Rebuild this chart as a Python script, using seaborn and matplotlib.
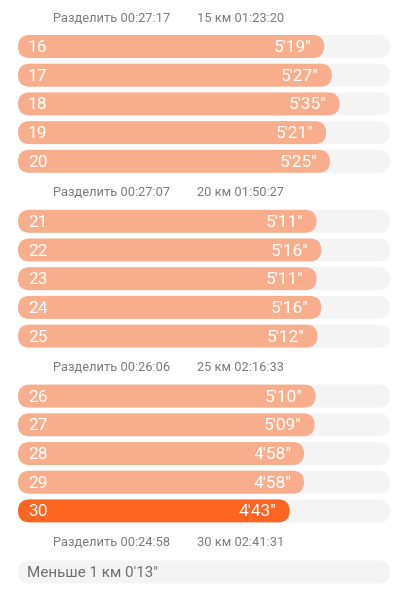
import matplotlib
matplotlib.use("Agg")
import matplotlib.pyplot as plt
import seaborn as sns
import pandas as pd
from matplotlib.patches import FancyBboxPatch

# km splits 16..30, pace in seconds per km
km = list(range(16, 31))
pace_sec = [319, 327, 335, 321, 325,
            311, 316, 311, 316, 312,
            310, 309, 298, 298, 283]

# section headers (every 5 km)
split_times = ["00:27:17", "00:27:07", "00:26:06", "00:24:58"]
total_km = [15, 20, 25, 30]
total_times = ["01:23:20", "01:50:27", "02:16:33", "02:41:31"]

rest_label = "Меньше 1 км 0'13\""
track_max = 387.5

light = "#F8AE8C"
dark = "#FC6522"
track = "#F4F4F4"

sns.set_theme(style="white")
plt.rcParams['font.family'] = ['Roboto', 'DejaVu Sans']

# row layout in pixels (y grows downward)
header_y = []
bar_y = []
y = 17.0
for sec in range(4):
    header_y.append(y)
    if sec < 3:
        y += 29.5
        for j in range(5):
            bar_y.append(y)
            y += 28.7
        y += 1.8
    else:
        y += 30.5
rest_y = y

fig = plt.figure(figsize=(4, 5.96), dpi=100)
ax = fig.add_axes([18 / 400, 0, 372 / 400, 1])

df = pd.DataFrame({"km": km, "pace": pace_sec, "y": bar_y})
df["best"] = df["pace"] == df["pace"].min()

tracks = pd.DataFrame({"pace": [track_max] * (len(bar_y) + 1),
                       "y": bar_y + [rest_y]})

sns.barplot(data=tracks, x="pace", y="y", orient="h", native_scale=True,
            color=track, width=0.8, ax=ax, saturation=1)
sns.barplot(data=df, x="pace", y="y", hue="best", orient="h",
            native_scale=True, palette={False: light, True: dark},
            width=0.8, dodge=False, legend=False, ax=ax, saturation=1)

ax.set_xlim(0, track_max)
ax.set_ylim(596, 0)
ax.set_axis_off()

# x units per pixel
kx = track_max / 372

# replace rectangles with rounded ones
rects = list(ax.patches)
for r in rects:
    x0, y0 = r.get_x(), r.get_y()
    w, h = r.get_width(), r.get_height()
    rad = abs(h) / 2
    fb = FancyBboxPatch((x0, min(y0, y0 + h)), w, abs(h),
                        boxstyle=f"round,pad=0,rounding_size={rad * kx}",
                        mutation_aspect=1 / kx,
                        facecolor=r.get_facecolor(), edgecolor="none",
                        linewidth=0)
    r.remove()
    ax.add_patch(fb)

dy = 1.0
for i, row in df.iterrows():
    ax.text(10 * kx, row["y"] + dy, str(row["km"]), color="white", fontsize=12.5,
            va="center", ha="left")
    m, s = divmod(int(row["pace"]), 60)
    ax.text(row["pace"] - 13 * kx, row["y"] + dy, f"{m}'{s:02d}\"", color="white",
            fontsize=12.5, va="center", ha="right")

for i in range(4):
    ax.text(35 * kx, header_y[i] + dy, f"Разделить {split_times[i]}",
            color="#7a7a7a", fontsize=9.3, va="center", ha="left")
    ax.text(179 * kx, header_y[i] + dy, f"{total_km[i]} км {total_times[i]}",
            color="#7a7a7a", fontsize=9.3, va="center", ha="left")

ax.text(9 * kx, rest_y + dy, rest_label, color="#6e6e6e", fontsize=11,
        va="center", ha="left")

fig.savefig("out.png", dpi=100, facecolor="white")
